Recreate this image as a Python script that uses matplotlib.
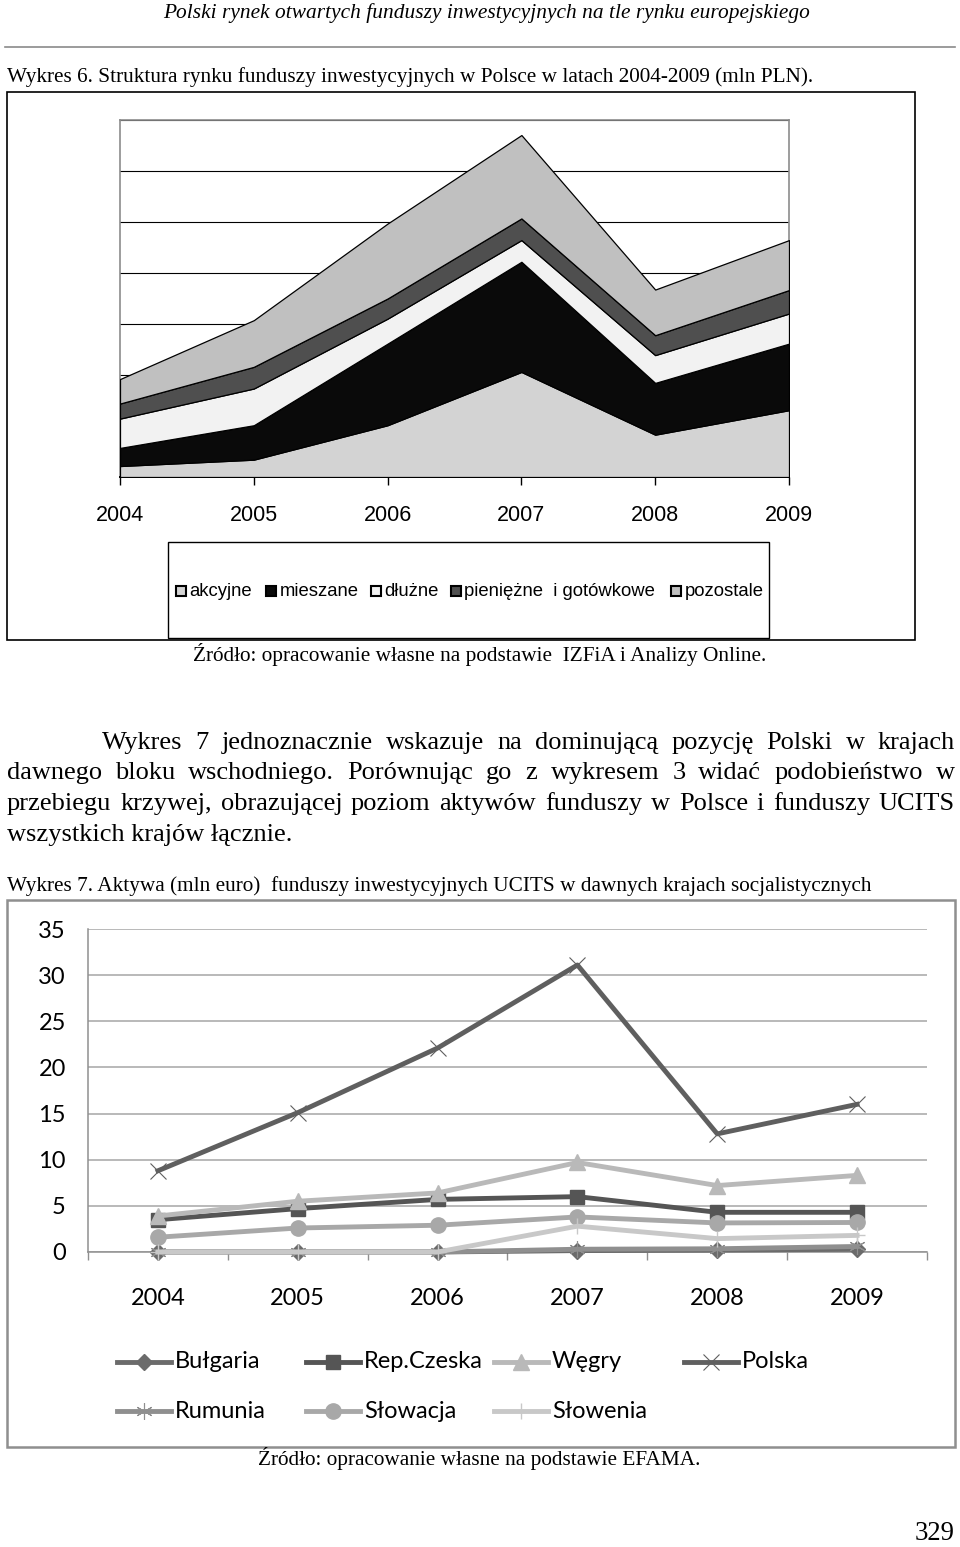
import matplotlib
matplotlib.use("Agg")
import matplotlib.pyplot as plt
from matplotlib.patches import Rectangle
import numpy as np

years = [2004, 2005, 2006, 2007, 2008, 2009]

# Wykres 6 - struktura rynku (mln PLN), warstwy od dołu
akcyjne = [4300, 6800, 20300, 41200, 16600, 26200]
mieszane = [7100, 13500, 32000, 43200, 20300, 26100]
dluzne = [11500, 14400, 9800, 8500, 10900, 11800]
pieniezne = [5900, 8500, 7900, 8500, 7800, 9200]
pozostale = [9600, 18300, 29400, 32700, 17900, 19600]
labels6 = ["akcyjne", "mieszane", "dłużne", "pieniężne  i gotówkowe", "pozostale"]
colors6 = ["#d3d3d3", "#0a0a0a", "#f2f2f2", "#4f4f4f", "#c0c0c0"]

# Wykres 7 - aktywa UCITS (mln euro)
countries = ["Bułgaria", "Rep.Czeska", "Węgry", "Polska", "Rumunia", "Słowacja", "Słowenia"]
bulgaria = [0, 0, 0, 0.15, 0.2, 0.3]
czechy = [3.5, 4.7, 5.7, 6.0, 4.3, 4.3]
wegry = [3.9, 5.5, 6.4, 9.7, 7.2, 8.3]
polska = [8.8, 15.1, 22.1, 31.1, 12.8, 16.0]
rumunia = [0, 0, 0, 0.3, 0.35, 0.6]
slowacja = [1.6, 2.6, 2.9, 3.8, 3.15, 3.2]
slowenia = [0, 0, 0, 2.8, 1.45, 1.8]

SERIF = "Liberation Serif"
NARROW = ["Liberation Sans Narrow", "Liberation Sans"]
CAL = ["Lato", "DejaVu Sans"]

fig = plt.figure(figsize=(9.6, 15.47), dpi=100)
page = fig.add_axes([0, 0, 1, 1], zorder=0)
page.set_xlim(0, 960)
page.set_ylim(1547, 0)
page.axis("off")
renderer = fig.canvas.get_renderer()


def fitted(x, y, s, width, ha="left", **kw):
    # text scaled so that it takes the given width in pixels
    t = page.text(x, y, s, ha=ha, va="center", fontsize=10, **kw)
    w = t.get_window_extent(renderer).width
    t.set_fontsize(10 * width / w)
    return t


def justify(x0, x1, y, line, fs, **kw):
    words = line.split()
    items = []
    for w in words:
        t = page.text(0, y, w, va="center", fontsize=fs, **kw)
        items.append((t, t.get_window_extent(renderer).width))
    gap = (x1 - x0 - sum(w for _, w in items)) / (len(items) - 1)
    x = x0
    for t, w in items:
        t.set_x(x)
        x += w + gap


# page header
fitted(487, 13, "Polski rynek otwartych funduszy inwestycyjnych na tle rynku europejskiego",
       645, ha="center", family=SERIF, style="italic")
page.plot([5, 955], [47, 47], color="#8a8a8a", lw=1.2)
fitted(7, 77, "Wykres 6. Struktura rynku funduszy inwestycyjnych w Polsce w latach 2004-2009 (mln PLN).",
       808, family=SERIF)

# ---- Wykres 6 ----
page.add_patch(Rectangle((7, 92), 908, 548, fill=False, ec="black", lw=1.2))
ax1 = fig.add_axes([120 / 960, 1 - 477 / 1547, 669 / 960, 357 / 1547], zorder=1)
ax1.stackplot(years, akcyjne, mieszane, dluzne, pieniezne, pozostale,
              colors=colors6, edgecolor="black", linewidth=0.9, zorder=3)
ax1.set_xlim(2004, 2009)
ax1.set_ylim(0, 140000)
ax1.set_yticks(np.arange(0, 140001, 20000))
ax1.yaxis.grid(True, color="black", lw=0.8)
ax1.set_axisbelow(True)
ax1.tick_params(axis="y", length=0, labelleft=False)
ax1.set_xticks(years)
ax1.set_xticklabels([str(y) for y in years], family=NARROW, fontsize=15.5)
ax1.tick_params(axis="x", length=6, width=1, direction="out", pad=14)
for s in ["left", "top", "right"]:
    ax1.spines[s].set_color("#8c8c8c")
    ax1.spines[s].set_linewidth(1.2)
ax1.spines["bottom"].set_linewidth(1.4)

# legend of Wykres 6
page.add_patch(Rectangle((168, 542), 601, 96, fill=False, ec="black", lw=1.0))
leg_box_x = [176, 266, 371, 451, 671]
leg_txt_x = [189, 280, 384, 464, 685]
for bx, tx, lab, col in zip(leg_box_x, leg_txt_x, labels6, colors6):
    page.add_patch(Rectangle((bx, 586), 10, 10, fc=col, ec="black", lw=1.5))
    page.text(tx, 591, lab, va="center", ha="left", family=NARROW, fontsize=13.3)

fitted(193, 655, "Źródło: opracowanie własne na podstawie  IZFiA i Analizy Online.", 574,
       family=SERIF)

# paragraph
t4 = fitted(7, 835, "wszystkich krajów łącznie.", 286, family=SERIF)
fs = t4.get_fontsize()
justify(102, 955, 743,
        "Wykres 7 jednoznacznie wskazuje na dominującą pozycję Polski w krajach",
        fs, family=SERIF)
justify(7, 955, 773,
        "dawnego bloku wschodniego. Porównując go z wykresem 3 widać podobieństwo w",
        fs, family=SERIF)
justify(7, 955, 804,
        "przebiegu krzywej, obrazującej poziom aktywów funduszy w Polsce i funduszy UCITS",
        fs, family=SERIF)

fitted(7, 886, "Wykres 7. Aktywa (mln euro)  funduszy inwestycyjnych UCITS w dawnych krajach socjalistycznych",
       865, family=SERIF)

# ---- Wykres 7 ----
page.add_patch(Rectangle((7, 900), 948, 547, fill=False, ec="#8f8f8f", lw=1.8))
ax2 = fig.add_axes([88 / 960, 1 - 1252 / 1547, 839 / 960, 323 / 1547], zorder=1)
xs = np.arange(len(years))
series = [bulgaria, czechy, wegry, polska, rumunia, slowacja, slowenia]
colors7 = ["#6b6b6b", "#555555", "#b9b9b9", "#5f5f5f", "#8f8f8f", "#a8a8a8", "#c8c8c8"]
markers = ["D", "s", "^", "x", (6, 2, 0), "o", "+"]
msizes = [8, 10, 11, 12, 12, 11, 12]
mews = [1, 1, 1, 0.8, 0.8, 1, 1]
for vals, col, mk, ms, mew in zip(series, colors7, markers, msizes, mews):
    ax2.plot(xs, vals, color=col, lw=3.5, marker=mk, ms=ms, mew=mew,
             mec=col, mfc=col, clip_on=False, zorder=3)
ax2.set_xlim(-0.5, 5.5)
ax2.set_ylim(0, 35)
ax2.set_yticks(np.arange(0, 36, 5))
ax2.yaxis.grid(True, color="#a6a6a6", lw=1.1)
ax2.set_axisbelow(True)
ax2.tick_params(axis="y", length=0, pad=16)
ax2.set_xticks(xs)
ax2.set_xticklabels([str(y) for y in years])
ax2.set_xticks(np.arange(-0.5, 5.6, 1), minor=True)
ax2.tick_params(axis="x", which="major", length=0, pad=26)
ax2.tick_params(axis="x", which="minor", length=6, color="#8f8f8f", width=1)
for lab in ax2.get_xticklabels() + ax2.get_yticklabels():
    lab.set_family(CAL)
    lab.set_fontsize(17)
for s in ["top", "right"]:
    ax2.spines[s].set_visible(False)
for s in ["left", "bottom"]:
    ax2.spines[s].set_color("#8f8f8f")
    ax2.spines[s].set_linewidth(1.1)

# legend of Wykres 7
leg_x = [117, 306, 494, 684, 117, 306, 494]
leg_y = [1362, 1362, 1362, 1362, 1411, 1411, 1411]
for name, col, mk, ms, mew, lx, ly in zip(countries, colors7, markers, msizes, mews, leg_x, leg_y):
    page.plot([lx, lx + 54], [ly, ly], color=col, lw=3.5)
    page.plot([lx + 27], [ly], marker=mk, ms=ms, mew=mew, color=col, mec=col, mfc=col)
    page.text(lx + 58, ly, name, va="center", ha="left", family=CAL, fontsize=17)

fitted(258, 1459, "Źródło: opracowanie własne na podstawie EFAMA.", 443, family=SERIF)
fitted(915, 1533, "329", 40, family=SERIF)

fig.savefig("out.png", dpi=100)
